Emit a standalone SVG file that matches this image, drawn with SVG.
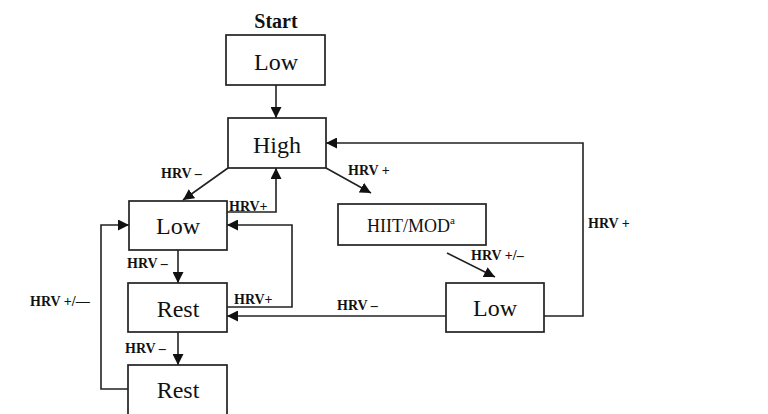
<svg xmlns="http://www.w3.org/2000/svg" width="768" height="414" viewBox="0 0 768 414">
<style>
.box{fill:#fff;stroke:#222;stroke-width:1.7}
.big{font-family:"Liberation Serif",serif;font-size:24px;fill:#111;text-anchor:middle}
.lbl{font-family:"Liberation Serif",serif;font-size:14px;font-weight:bold;fill:#111}
.ln{fill:none;stroke:#222;stroke-width:1.6}
</style>
<defs>
<marker id="ah" viewBox="0 0 10 10" refX="10" refY="5" markerWidth="11" markerHeight="11" markerUnits="userSpaceOnUse" orient="auto">
<path d="M0,0 L10,5 L0,10 z" fill="#111"/>
</marker>
</defs>
<rect width="768" height="414" fill="#fff"/>
<g id="connectors">
<line class="ln" x1="276" y1="85" x2="276" y2="118" marker-end="url(#ah)"/>
<polyline class="ln" points="544,316 583,316 583,143 326,143" marker-end="url(#ah)"/>
<line class="ln" x1="228" y1="168" x2="183" y2="200" marker-end="url(#ah)"/>
<polyline class="ln" points="227,212 276,212 276,168" marker-end="url(#ah)"/>
<line class="ln" x1="326" y1="168" x2="371" y2="193" marker-end="url(#ah)"/>
<line class="ln" x1="447" y1="253" x2="495" y2="277" marker-end="url(#ah)"/>
<line class="ln" x1="446" y1="316" x2="227" y2="316" marker-end="url(#ah)"/>
<polyline class="ln" points="227,307 292,307 292,225 227,225" marker-end="url(#ah)"/>
<line class="ln" x1="178" y1="250" x2="178" y2="283" marker-end="url(#ah)"/>
<line class="ln" x1="178" y1="332" x2="178" y2="365" marker-end="url(#ah)"/>
<polyline class="ln" points="128,389 101,389 101,225 129,225" marker-end="url(#ah)"/>
<text class="lbl" x="161" y="178">HRV –</text>
<text class="lbl" x="229" y="211">HRV+</text>
<text class="lbl" x="348" y="175">HRV +</text>
<text class="lbl" x="471" y="260">HRV +/–</text>
<text class="lbl" x="588" y="228">HRV +</text>
<text class="lbl" x="337" y="310">HRV –</text>
<text class="lbl" x="234" y="304">HRV+</text>
<text class="lbl" x="127" y="268">HRV –</text>
<text class="lbl" x="125" y="353">HRV –</text>
<text class="lbl" x="30" y="306">HRV +/—</text>
</g>
<g id="start">
<text x="276" y="28" font-family="Liberation Serif,serif" font-size="20" font-weight="bold" text-anchor="middle" fill="#111">Start</text>
</g>
<g id="low-top">
<rect class="box" x="226" y="35" width="99" height="50"/>
<text class="big" x="276" y="70">Low</text>
</g>
<g id="high">
<rect class="box" x="228" y="118" width="98" height="50"/>
<text class="big" x="277" y="153">High</text>
</g>
<g id="low-left">
<rect class="box" x="129" y="201" width="98" height="49"/>
<text class="big" x="178" y="234">Low</text>
</g>
<g id="hiit">
<rect class="box" x="338" y="204" width="148" height="41"/>
<text x="411" y="232" font-family="Liberation Serif,serif" font-size="18" text-anchor="middle" fill="#111">HIIT/MOD<tspan font-size="11" dy="-8">a</tspan></text>
</g>
<g id="low-right">
<rect class="box" x="446" y="283" width="98" height="49"/>
<text class="big" x="495" y="316">Low</text>
</g>
<g id="rest1">
<rect class="box" x="128" y="283" width="99" height="49"/>
<text class="big" x="178" y="317">Rest</text>
</g>
<g id="rest2">
<rect class="box" x="128" y="365" width="99" height="60"/>
<text class="big" x="178" y="398">Rest</text>
</g>
</svg>
